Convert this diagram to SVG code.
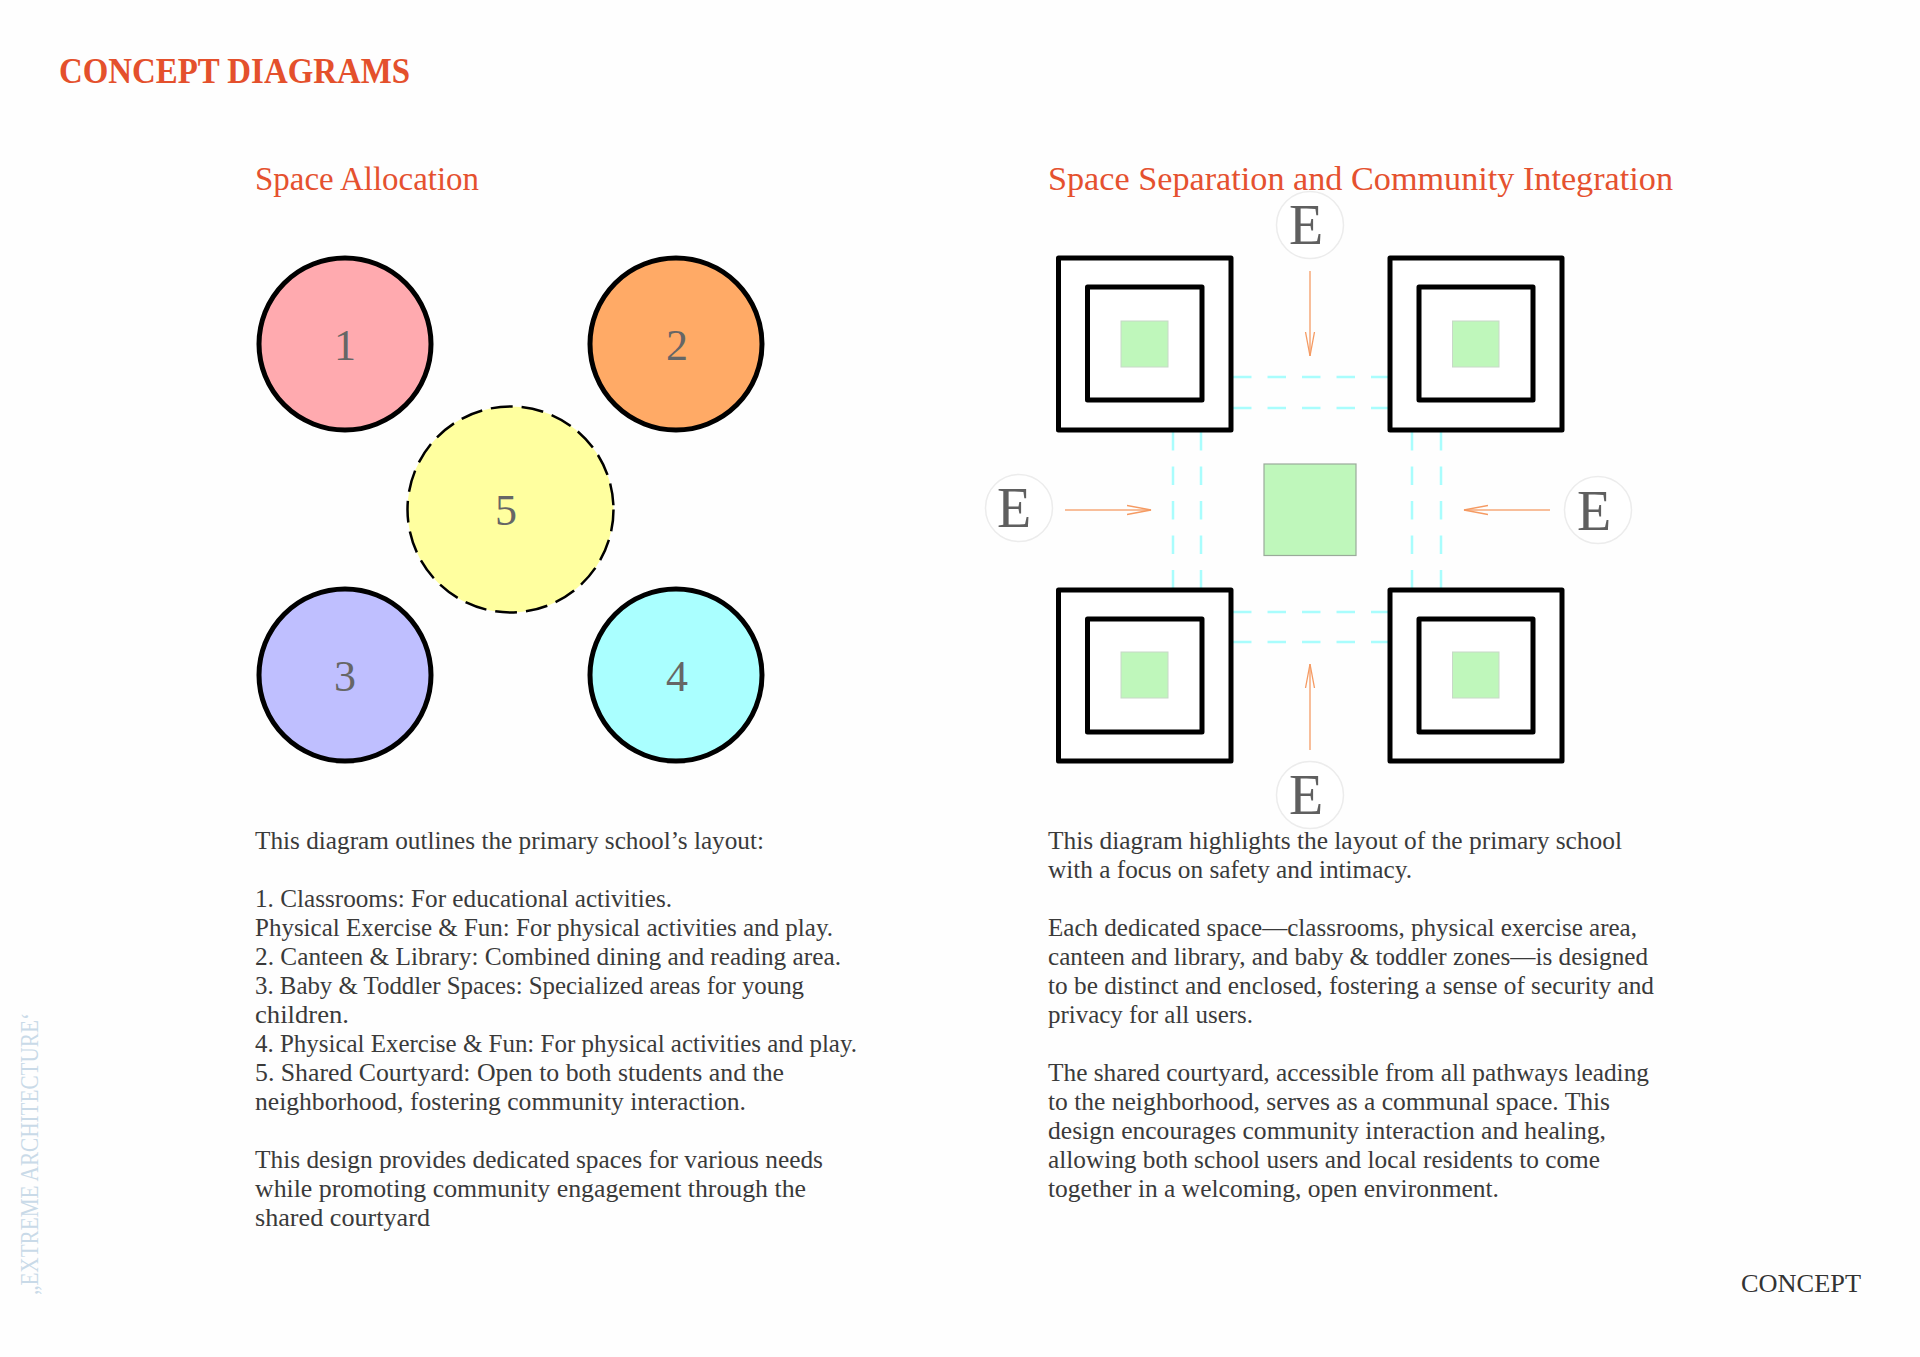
<svg xmlns="http://www.w3.org/2000/svg" width="1920" height="1357" viewBox="0 0 1920 1357">
<style>
text{font-family:"Liberation Serif","Times New Roman",serif}
.h1{font-size:35px;font-weight:bold;fill:#e4502c}
.h2{font-size:34px;fill:#e5512f}
.b{font-size:25px;fill:#3a3a3a}
.n{font-size:44px;fill:#666;text-anchor:middle}
.e{font-size:56px;fill:#5f5f5f;text-anchor:middle}
.ec{fill:#fff;stroke:#ececec;stroke-width:1.5}
.c{stroke:#000;stroke-width:5}
.o{fill:#fff;stroke:#000;stroke-width:5;stroke-linejoin:round}
.g{fill:#bff7bb;stroke:#c8d8c8;stroke-width:1}
.d{stroke:#a9fdfd;stroke-width:2.5;stroke-dasharray:18.5 16;fill:none}
.a{stroke:#f6a878;stroke-width:1.5;fill:none;marker-end:url(#ah)}
</style>
<defs>
<marker id="ah" markerUnits="userSpaceOnUse" markerWidth="28" markerHeight="14" refX="24" refY="6" orient="auto">
<path d="M0 1.5L24 6L0 10.5" fill="none" stroke="#f59a62" stroke-width="1.3"/>
</marker>
</defs>
<rect width="1920" height="1357" fill="#fefefe"/>
<text class="h1" x="59" y="83" textLength="351" lengthAdjust="spacingAndGlyphs">CONCEPT DIAGRAMS</text>
<text class="h2" x="255" y="190" textLength="224" lengthAdjust="spacingAndGlyphs">Space Allocation</text>
<text class="h2" x="1048" y="190" textLength="625" lengthAdjust="spacingAndGlyphs">Space Separation and Community Integration</text>

<g id="circle-1"><circle class="c" cx="345" cy="344" r="86" fill="#ffaaaf"/><text class="n" x="345" y="360">1</text></g>
<g id="circle-2"><circle class="c" cx="676" cy="344" r="86" fill="#ffaa66"/><text class="n" x="677" y="360">2</text></g>
<g id="circle-3"><circle class="c" cx="345" cy="675" r="86" fill="#bfbfff"/><text class="n" x="345" y="691">3</text></g>
<g id="circle-4"><circle class="c" cx="676" cy="675" r="86" fill="#aaffff"/><text class="n" x="677" y="691">4</text></g>
<g id="circle-5"><circle cx="510.500" cy="509.500" r="103" fill="#ffff9f" stroke="#000" stroke-width="2.500" stroke-dasharray="22 9"/><text class="n" x="506" y="525">5</text></g>

<g id="connectors">
<path class="d" d="M1233 377H1390M1233 408H1390M1233 612H1390M1233 642H1390"/>
<path class="d" d="M1173 432V589M1201 432V589M1412 432V589M1441 432V589"/>
<path class="a" d="M1310 271V356"/>
<path class="a" d="M1065 510H1151"/>
<path class="a" d="M1550 510H1464"/>
<path class="a" d="M1310 750V664"/>
</g>

<g id="block-tl"><rect class="o" x="1058.500" y="258" width="172.500" height="172"/><rect class="o" x="1087.500" y="287" width="114.500" height="113"/><rect class="g" x="1121" y="321" width="47" height="46"/></g>
<g id="block-tr"><rect class="o" x="1390" y="258" width="172" height="172"/><rect class="o" x="1419" y="287" width="114" height="113"/><rect class="g" x="1452.500" y="321" width="46.500" height="46"/></g>
<g id="block-bl"><rect class="o" x="1058.500" y="590" width="172.500" height="171"/><rect class="o" x="1087.500" y="619" width="114.500" height="113"/><rect class="g" x="1121" y="652" width="47" height="46"/></g>
<g id="block-br"><rect class="o" x="1390" y="590" width="172" height="171"/><rect class="o" x="1419" y="619" width="114" height="113"/><rect class="g" x="1452.500" y="652" width="46.500" height="46"/></g>
<g id="court"><rect x="1264" y="464" width="92" height="91.500" fill="#bff7bb" stroke="#9aaa9a" stroke-width="1.200"/></g>

<g id="entry-top"><circle class="ec" cx="1310" cy="225" r="33.500"/><text class="e" x="1306" y="244">E</text></g>
<g id="entry-left"><circle class="ec" cx="1019" cy="508" r="33.500"/><text class="e" x="1014" y="527">E</text></g>
<g id="entry-right"><circle class="ec" cx="1598" cy="510" r="33.500"/><text class="e" x="1594" y="530">E</text></g>
<g id="entry-bottom"><circle class="ec" cx="1310" cy="795" r="33.500"/><text class="e" x="1306" y="814">E</text></g>

<g id="text-left">
<text class="b" x="255" y="849" textLength="509" lengthAdjust="spacingAndGlyphs">This diagram outlines the primary school’s layout:</text>
<text class="b" x="255" y="907" textLength="417" lengthAdjust="spacingAndGlyphs">1. Classrooms: For educational activities.</text>
<text class="b" x="255" y="936" textLength="578" lengthAdjust="spacingAndGlyphs">Physical Exercise &amp; Fun: For physical activities and play.</text>
<text class="b" x="255" y="965" textLength="586" lengthAdjust="spacingAndGlyphs">2. Canteen &amp; Library: Combined dining and reading area.</text>
<text class="b" x="255" y="994" textLength="549" lengthAdjust="spacingAndGlyphs">3. Baby &amp; Toddler Spaces: Specialized areas for young</text>
<text class="b" x="255" y="1023" textLength="94" lengthAdjust="spacingAndGlyphs">children.</text>
<text class="b" x="255" y="1052" textLength="602" lengthAdjust="spacingAndGlyphs">4. Physical Exercise &amp; Fun: For physical activities and play.</text>
<text class="b" x="255" y="1081" textLength="529" lengthAdjust="spacingAndGlyphs">5. Shared Courtyard: Open to both students and the</text>
<text class="b" x="255" y="1110" textLength="491" lengthAdjust="spacingAndGlyphs">neighborhood, fostering community interaction.</text>
<text class="b" x="255" y="1168" textLength="568" lengthAdjust="spacingAndGlyphs">This design provides dedicated spaces for various needs</text>
<text class="b" x="255" y="1197" textLength="551" lengthAdjust="spacingAndGlyphs">while promoting community engagement through the</text>
<text class="b" x="255" y="1226" textLength="175" lengthAdjust="spacingAndGlyphs">shared courtyard</text>
</g>
<g id="text-right">
<text class="b" x="1048" y="849" textLength="574" lengthAdjust="spacingAndGlyphs">This diagram highlights the layout of the primary school</text>
<text class="b" x="1048" y="878" textLength="364" lengthAdjust="spacingAndGlyphs">with a focus on safety and intimacy.</text>
<text class="b" x="1048" y="936" textLength="589" lengthAdjust="spacingAndGlyphs">Each dedicated space—classrooms, physical exercise area,</text>
<text class="b" x="1048" y="965" textLength="600" lengthAdjust="spacingAndGlyphs">canteen and library, and baby &amp; toddler zones—is designed</text>
<text class="b" x="1048" y="994" textLength="606" lengthAdjust="spacingAndGlyphs">to be distinct and enclosed, fostering a sense of security and</text>
<text class="b" x="1048" y="1023" textLength="205" lengthAdjust="spacingAndGlyphs">privacy for all users.</text>
<text class="b" x="1048" y="1081" textLength="601" lengthAdjust="spacingAndGlyphs">The shared courtyard, accessible from all pathways leading</text>
<text class="b" x="1048" y="1110" textLength="562" lengthAdjust="spacingAndGlyphs">to the neighborhood, serves as a communal space. This</text>
<text class="b" x="1048" y="1139" textLength="558" lengthAdjust="spacingAndGlyphs">design encourages community interaction and healing,</text>
<text class="b" x="1048" y="1168" textLength="552" lengthAdjust="spacingAndGlyphs">allowing both school users and local residents to come</text>
<text class="b" x="1048" y="1197" textLength="451" lengthAdjust="spacingAndGlyphs">together in a welcoming, open environment.</text>
</g>
<text x="1741" y="1292" font-size="26" fill="#333" textLength="120" lengthAdjust="spacingAndGlyphs">CONCEPT</text>
<text transform="translate(38 1295) rotate(-90)" font-size="25" fill="#c9dae8" textLength="282" lengthAdjust="spacingAndGlyphs">„EXTREME  ARCHITECTURE‘</text>
</svg>
